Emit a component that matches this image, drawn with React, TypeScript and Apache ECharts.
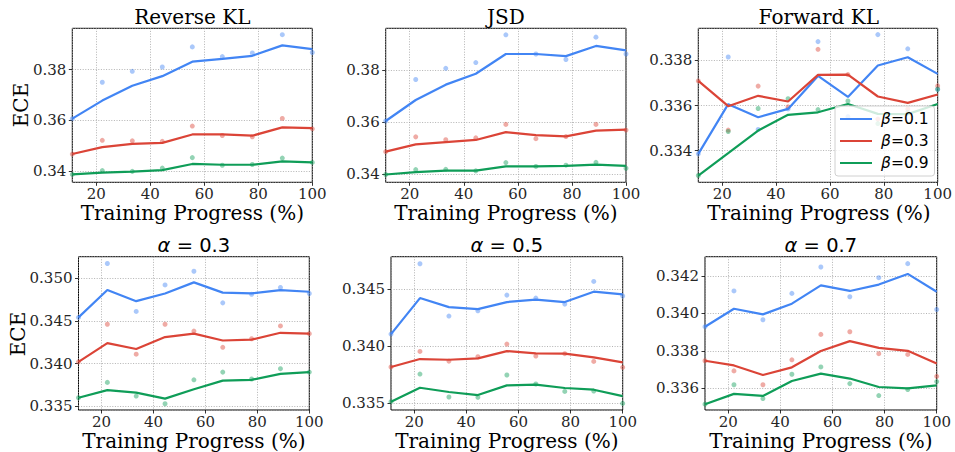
import React, { useEffect, useRef } from "react";
import * as echarts from "echarts";

// ---------- data ----------
const PROGRESS = [11.11, 22.22, 33.33, 44.44, 55.56, 66.67, 77.78, 88.89, 100];
const BETAS = ["0.1", "0.3", "0.9"];
const TITLES = ["Reverse KL", "JSD", "Forward KL", "0.3", "0.5", "0.7"];
const X_TICK_STEP = 20;

// Reverse KL
const RKL_LINE_B01 = [0.3607, 0.3678, 0.3736, 0.3774, 0.3831, 0.3842, 0.3854, 0.3895, 0.388];
const RKL_RAW_B01 = [0.3607, 0.375, 0.3793, 0.381, 0.3889, 0.3851, 0.3865, 0.3937, 0.3867];
const RKL_LINE_B03 = [0.3468, 0.3495, 0.3508, 0.3512, 0.3545, 0.3545, 0.354, 0.3573, 0.357];
const RKL_RAW_B03 = [0.3468, 0.3522, 0.352, 0.3518, 0.3578, 0.3541, 0.3536, 0.3608, 0.3567];
const RKL_LINE_B09 = [0.3388, 0.3395, 0.3399, 0.3405, 0.3429, 0.3426, 0.3426, 0.3439, 0.3435];
const RKL_RAW_B09 = [0.3388, 0.3403, 0.34, 0.3413, 0.3454, 0.3424, 0.3427, 0.3452, 0.3435];

// JSD
const JSD_LINE_B01 = [0.3605, 0.3686, 0.3745, 0.3787, 0.3863, 0.3863, 0.3855, 0.3894, 0.3877];
const JSD_RAW_B01 = [0.3605, 0.3765, 0.3808, 0.383, 0.3937, 0.3863, 0.3842, 0.3928, 0.3863];
const JSD_LINE_B03 = [0.3487, 0.3515, 0.3524, 0.3532, 0.3562, 0.3551, 0.3546, 0.3568, 0.3572];
const JSD_RAW_B03 = [0.3487, 0.3544, 0.3533, 0.354, 0.3592, 0.3537, 0.3545, 0.3592, 0.357];
const JSD_LINE_B09 = [0.3399, 0.3408, 0.3414, 0.3414, 0.343, 0.343, 0.3432, 0.3437, 0.3432];
const JSD_RAW_B09 = [0.3399, 0.3418, 0.3419, 0.3413, 0.3445, 0.343, 0.3435, 0.3446, 0.3423];

// Forward KL
const FKL_LINE_B01 = [0.33386, 0.33606, 0.33548, 0.33585, 0.33731, 0.33638, 0.33777, 0.33814, 0.3374];
const FKL_RAW_B01 = [0.33386, 0.33815, 0.33494, 0.33585, 0.33883, 0.33551, 0.33914, 0.33851, 0.33672];
const FKL_LINE_B03 = [0.33709, 0.33597, 0.33643, 0.33618, 0.33736, 0.33737, 0.3364, 0.33612, 0.33649];
const FKL_RAW_B03 = [0.33709, 0.33491, 0.33686, 0.33594, 0.33849, 0.33737, 0.3354, 0.33585, 0.33687];
const FKL_LINE_B09 = [0.3329, 0.33389, 0.33489, 0.33559, 0.3357, 0.33607, 0.33563, 0.33562, 0.33607];
const FKL_RAW_B09 = [0.3329, 0.33485, 0.33587, 0.3363, 0.33582, 0.3362, 0.3352, 0.3357, 0.33672];

// alpha = 0.3
const A03_LINE_B01 = [0.3454, 0.3486, 0.3473, 0.3482, 0.3495, 0.3483, 0.3482, 0.3486, 0.3484];
const A03_RAW_B01 = [0.3454, 0.3517, 0.3461, 0.3492, 0.3508, 0.3471, 0.3481, 0.3489, 0.3482];
const A03_LINE_B03 = [0.3402, 0.3424, 0.3417, 0.3431, 0.3435, 0.3427, 0.3428, 0.3436, 0.3435];
const A03_RAW_B03 = [0.3402, 0.3446, 0.3411, 0.3446, 0.3438, 0.3419, 0.3429, 0.3444, 0.3435];
const A03_LINE_B09 = [0.336, 0.3369, 0.3366, 0.3359, 0.337, 0.338, 0.3381, 0.3388, 0.339];
const A03_RAW_B09 = [0.336, 0.3378, 0.3362, 0.3353, 0.3381, 0.339, 0.3382, 0.3394, 0.339];

// alpha = 0.5
const A05_LINE_B01 = [0.34108, 0.34424, 0.34345, 0.34327, 0.34389, 0.3441, 0.34389, 0.3448, 0.34456];
const A05_RAW_B01 = [0.34108, 0.34725, 0.34266, 0.34313, 0.3445, 0.34424, 0.34371, 0.3457, 0.34442];
const A05_LINE_B03 = [0.33819, 0.33889, 0.33883, 0.33895, 0.33959, 0.33939, 0.33936, 0.33904, 0.3386];
const A05_RAW_B03 = [0.33819, 0.33956, 0.33871, 0.33909, 0.3402, 0.33915, 0.33936, 0.33868, 0.33816];
const A05_LINE_B09 = [0.33515, 0.33637, 0.336, 0.33573, 0.33658, 0.33664, 0.33635, 0.3362, 0.33564];
const A05_RAW_B09 = [0.33515, 0.33757, 0.33556, 0.33553, 0.33749, 0.3367, 0.33605, 0.33608, 0.335];

// alpha = 0.7
const A07_LINE_B01 = [0.33929, 0.34025, 0.33995, 0.34052, 0.3415, 0.3412, 0.34154, 0.34211, 0.34116];
const A07_RAW_B01 = [0.33929, 0.3412, 0.33966, 0.34107, 0.34248, 0.34089, 0.34191, 0.34266, 0.34021];
const A07_LINE_B03 = [0.33747, 0.33722, 0.33671, 0.33712, 0.33799, 0.33852, 0.33816, 0.338, 0.33733];
const A07_RAW_B03 = [0.33747, 0.33693, 0.33619, 0.33752, 0.33888, 0.33902, 0.33785, 0.33781, 0.33664];
const A07_LINE_B09 = [0.33515, 0.3357, 0.33559, 0.33639, 0.33678, 0.33652, 0.33607, 0.336, 0.33616];
const A07_RAW_B09 = [0.33515, 0.33619, 0.33545, 0.33675, 0.33714, 0.33625, 0.33561, 0.33593, 0.33636];

// y-axis ranges and tick steps
const Y_MIN = [0.3357, 0.3369, 0.3326, 0.33457, 0.33442, 0.33484];
const Y_MAX = [0.3962, 0.3962, 0.33942, 0.3525, 0.34787, 0.34303];
const Y_STEP = [0.02, 0.02, 0.002, 0.005, 0.005, 0.002];
const Y_DECIMALS = [2, 2, 3, 3, 3, 3];

const LINES = [
  [RKL_LINE_B01, RKL_LINE_B03, RKL_LINE_B09],
  [JSD_LINE_B01, JSD_LINE_B03, JSD_LINE_B09],
  [FKL_LINE_B01, FKL_LINE_B03, FKL_LINE_B09],
  [A03_LINE_B01, A03_LINE_B03, A03_LINE_B09],
  [A05_LINE_B01, A05_LINE_B03, A05_LINE_B09],
  [A07_LINE_B01, A07_LINE_B03, A07_LINE_B09],
];
const RAWS = [
  [RKL_RAW_B01, RKL_RAW_B03, RKL_RAW_B09],
  [JSD_RAW_B01, JSD_RAW_B03, JSD_RAW_B09],
  [FKL_RAW_B01, FKL_RAW_B03, FKL_RAW_B09],
  [A03_RAW_B01, A03_RAW_B03, A03_RAW_B09],
  [A05_RAW_B01, A05_RAW_B03, A05_RAW_B09],
  [A07_RAW_B01, A07_RAW_B03, A07_RAW_B09],
];

// ---------- layout / style ----------
const COLORS = ["#4285F4", "#DB4437", "#0F9D58"];
const GRIDS = [
  { left: 72.3, top: 28.3, width: 240, height: 154 },
  { left: 385.7, top: 28.3, width: 240.3, height: 154 },
  { left: 698.3, top: 28.3, width: 241, height: 154 },
  { left: 78.5, top: 256.7, width: 230.8, height: 153.3 },
  { left: 391, top: 256.7, width: 231.7, height: 153.3 },
  { left: 705, top: 256.7, width: 231.7, height: 153.3 },
];
const SERIF = "'DejaVu Serif', serif";
const SANS = "'DejaVu Sans', sans-serif";

function buildOption() {
  const grid = GRIDS.map((g) => ({
    ...g,
    show: true,
    borderColor: "#000",
    borderWidth: 1,
    backgroundColor: "transparent",
    containLabel: false,
  }));
  const splitLine = {
    show: true,
    lineStyle: { color: "#a0a0a0", width: 0.8, type: [1, 1.6] as any },
  };
  const xAxis = GRIDS.map((_, i) => ({
    type: "value",
    gridIndex: i,
    min: PROGRESS[0],
    max: PROGRESS[PROGRESS.length - 1],
    minInterval: X_TICK_STEP,
    maxInterval: X_TICK_STEP,
    axisLine: { show: false },
    axisTick: { show: true, length: 3.5, lineStyle: { color: "#000", width: 0.8 } },
    axisLabel: {
      showMinLabel: false,
      margin: 4,
      fontFamily: SERIF,
      fontSize: 15,
      color: "#262626",
      formatter: (v: number) => String(Math.round(v)),
    },
    splitLine,
  }));
  const yAxis = GRIDS.map((_, i) => ({
    type: "value",
    gridIndex: i,
    min: Y_MIN[i],
    max: Y_MAX[i],
    minInterval: Y_STEP[i],
    maxInterval: Y_STEP[i],
    axisLine: { show: false },
    axisTick: { show: true, length: 3.5, lineStyle: { color: "#000", width: 0.8 } },
    axisLabel: {
      showMinLabel: false,
      showMaxLabel: false,
      margin: 6,
      fontFamily: SERIF,
      fontSize: 15,
      color: "#262626",
      formatter: (v: number) => v.toFixed(Y_DECIMALS[i]),
    },
    splitLine,
  }));

  const series: any[] = [];
  GRIDS.forEach((_, i) => {
    BETAS.forEach((b, j) => {
      series.push({
        type: "scatter",
        name: `raw β=${b}`,
        xAxisIndex: i,
        yAxisIndex: i,
        data: PROGRESS.map((x, k) => [x, RAWS[i][j][k]]),
        symbolSize: 5,
        itemStyle: { color: COLORS[j], opacity: 0.45 },
        silent: true,
        z: 1,
      });
    });
    BETAS.forEach((b, j) => {
      series.push({
        type: "line",
        name: `β=${b}`,
        xAxisIndex: i,
        yAxisIndex: i,
        data: PROGRESS.map((x, k) => [x, LINES[i][j][k]]),
        showSymbol: false,
        symbol: "none",
        lineStyle: { color: COLORS[j], width: 2.2 },
        itemStyle: { color: COLORS[j] },
        silent: true,
        z: 2,
      });
    });
  });

  const graphic: any[] = [];
  GRIDS.forEach((g, i) => {
    const cx = g.left + g.width / 2;
    if (i < 3) {
      graphic.push({
        type: "text",
        x: cx,
        y: 17,
        style: {
          text: TITLES[i],
          fontFamily: SERIF,
          fontSize: 20,
          fill: "#000",
          align: "center",
          verticalAlign: "middle",
          textAlign: "center",
          textVerticalAlign: "middle",
        },
      });
    } else {
      graphic.push({
        type: "text",
        x: cx,
        y: 245.5,
        style: {
          text: `{a|α}{n| = ${TITLES[i]}}`,
          rich: {
            a: { fontFamily: SANS, fontStyle: "italic", fontSize: 19.5, fill: "#000" },
            n: { fontFamily: SANS, fontSize: 19.5, fill: "#000" },
          },
          align: "center",
          verticalAlign: "middle",
          textAlign: "center",
          textVerticalAlign: "middle",
        },
      });
    }
    graphic.push({
      type: "text",
      x: cx,
      y: i < 3 ? 213 : 441,
      style: {
        text: "Training Progress (%)",
        fontFamily: SERIF,
        fontSize: 20,
        fill: "#000",
        align: "center",
        verticalAlign: "middle",
        textAlign: "center",
        textVerticalAlign: "middle",
      },
    });
  });
  [
    { x: 20.8, y: 105 },
    { x: 18, y: 334 },
  ].forEach((p) => {
    graphic.push({
      type: "text",
      x: p.x,
      y: p.y,
      rotation: Math.PI / 2,
      style: {
        text: "ECE",
        fontFamily: SERIF,
        fontSize: 20,
        fill: "#000",
        align: "center",
        verticalAlign: "middle",
        textAlign: "center",
        textVerticalAlign: "middle",
      },
    });
  });

  return {
    animation: false,
    backgroundColor: "#fff",
    grid,
    xAxis,
    yAxis,
    series,
    legend: {
      show: true,
      data: BETAS.map((b) => `β=${b}`),
      orient: "vertical",
      left: 835,
      top: 106,
      itemWidth: 32,
      itemHeight: 2,
      itemGap: 6,
      icon: "rect",
      selectedMode: false,
      padding: [5, 6, 5, 5],
      backgroundColor: "rgba(255,255,255,0.8)",
      borderColor: "#d0d0d0",
      borderWidth: 1,
      borderRadius: 3,
      formatter: (name: string) => `{i|β}{n|${name.slice(1)}}`,
      textStyle: {
        fontFamily: SANS,
        fontSize: 15.5,
        color: "#000",
        padding: [0, 0, 0, 4],
        rich: {
          i: { fontFamily: SANS, fontStyle: "italic", fontSize: 15.5, color: "#000" },
          n: { fontFamily: SANS, fontSize: 15.5, color: "#000" },
        },
      },
    },
    graphic,
  };
}

export default function App() {
  const ref = useRef<HTMLDivElement>(null);
  useEffect(() => {
    if (!ref.current) return;
    const chart = echarts.init(ref.current, undefined, { renderer: "svg" });
    chart.setOption(buildOption() as any);
    return () => chart.dispose();
  }, []);
  return (
    <div
      ref={ref}
      style={{ position: "fixed", left: 0, top: 0, width: 955, height: 452 }}
    />
  );
}
